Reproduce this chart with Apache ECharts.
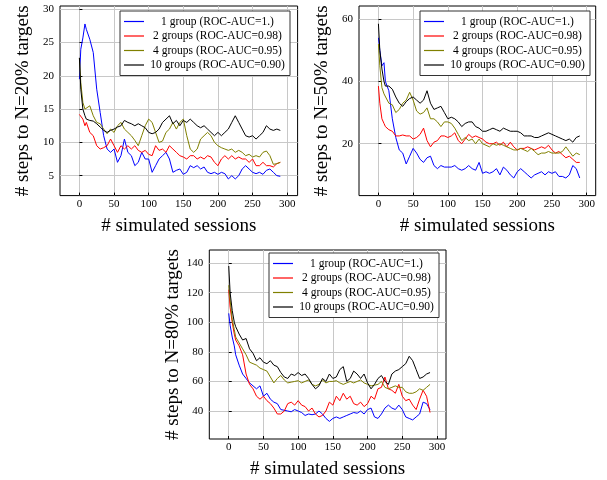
<!DOCTYPE html>
<html>
<head>
<meta charset="utf-8">
<script src="https://cdn.jsdelivr.net/npm/echarts@6/dist/echarts.min.js"></script>
<style>
  html, body { margin: 0; padding: 0; background: #fff; }
  #chart { width: 607px; height: 480px; }
</style>
</head>
<body>
<div id="chart"></div>
<script>
// simulated sessions at which the curves were read off
var sessions = [0, 2, 5, 8,
  10, 15, 20, 25, 30, 35, 40, 45, 50, 55,
  60, 65, 70, 75, 80, 85, 90, 95, 100, 105,
  110, 115, 120, 125, 130, 135, 140, 145, 150, 155,
  160, 165, 170, 175, 180, 185, 190, 195, 200, 205,
  210, 215, 220, 225, 230, 235, 240, 245, 250, 255,
  260, 265, 270, 275, 280, 285, 290];

var groupNames = ['1 group (ROC-AUC=1.)', '2 groups (ROC-AUC=0.98)', '4 groups (ROC-AUC=0.95)', '10 groups (ROC-AUC=0.90)'];
var groupColors = ['#0000ff', '#ff0000', '#808000', '#000000'];

var xTicks = [0, 50, 100, 150, 200, 250, 300];
var yTicks20 = [5, 10, 15, 20, 25, 30];
var yTicks50 = [20, 40, 60];
var yTicks80 = [40, 60, 80, 100, 120, 140];

// N = 20% targets
var blue20 = [19.5, 24, 25.7, 27.8,
  27, 25.5, 23.5, 18, 14.5, 11, 9, 8.5, 9, 7,
  8, 10.5, 8.5, 8, 6.5, 7, 8.5, 7.5, 7.5, 5.5,
  6.5, 7.5, 8, 8.5, 7.5, 5.5, 5.8, 6, 5.2, 5.5,
  6.5, 6.2, 6.5, 6, 6.3, 5.5, 5.3, 5.5, 5.2, 5.5,
  5.3, 4.5, 5, 4.5, 5, 6, 6.5, 6, 5.5, 5.3,
  5.5, 5.2, 5.8, 6, 5.5, 5, 4.9];
var red20 = [14.2, 14, 13.5, 12.5,
  13, 11.5, 11, 9.5, 9, 9.2, 9.5, 10.5, 9.5, 8.5,
  9.5, 9, 9.5, 9, 9.5, 8.8, 8.5, 8.8, 8.2, 8,
  9.5, 8.8, 9, 8.5, 9.5, 9, 8.5, 8, 7.8, 7.5,
  8, 8, 7.5, 7.8, 7.5, 8, 7.8, 7, 6.5, 7.5,
  8, 7.5, 8, 7.5, 7.8, 7.5, 7.5, 7, 7.5, 6.5,
  6.5, 7, 6.5, 6.5, 6.3, 6.8, 7];
var olive20 = [22.7, 19, 16, 15,
  15.3, 15.5, 14, 13, 12.8, 12, 11.3, 12, 11.5, 12.5,
  13, 12, 11.5, 11, 10.3, 9.5, 11, 12.5, 13.5, 13,
  11.5, 10, 10.2, 11.5, 12, 13, 12, 13, 13.5, 11,
  9, 8.5, 9, 10.5, 11, 11.5, 11, 10, 9.5, 9.2,
  9, 8.8, 9, 8.5, 8.8, 8.5, 8, 8.2, 7.8, 8,
  7.8, 8.5, 8.7, 8, 6.7, 6.8, 7];
var black20 = [22.7, 18, 15, 14,
  13.5, 13.3, 13.2, 12.8, 12.3, 11.8, 11.5, 11.8, 12, 12.3,
  12.5, 13.3, 13, 12.8, 12.5, 12.8, 12.5, 12.2, 11.5, 11.3,
  11.5, 12, 13, 13.5, 14, 12.8, 13.3, 12.5, 13.3, 13,
  13.5, 13, 12.5, 12.2, 12.5, 12, 11.5, 11, 11.5, 11,
  11.5, 12, 13, 14, 13, 12, 11, 10.8, 11, 10.5,
  11, 11.5, 12.5, 12, 11.8, 12, 11.8];

// N = 50% targets
var blue50 = [54, 50, 45, 46,
  40, 37, 28, 22, 18, 17, 13.5, 16, 18.5, 17,
  15, 14, 15.5, 16, 13, 12, 13, 12.5, 12.5, 12.5,
  13, 12, 11.5, 12, 13, 12, 11.5, 14, 10.5, 11,
  10.5, 11, 12, 10, 12.5, 11.5, 10, 9, 11, 12,
  11, 10, 9, 10, 10.5, 11, 10, 11, 10.5, 11,
  9.5, 9.5, 9, 10, 13, 12, 9];
var red50 = [38.5, 33, 28, 26.5,
  25.5, 24.5, 24, 22.5, 22.5, 22.8, 22.5, 22.5, 21.5, 22,
  23, 25, 21, 19, 20.5, 21, 22.5, 22.5, 22, 22.5,
  23.5, 21, 20, 21.5, 23, 22, 22.5, 22, 21.5, 20.5,
  20, 20, 20.5, 19.5, 20.5, 19, 20.5, 19, 18, 18.5,
  18.5, 19, 18.5, 18, 18.5, 19, 18.5, 19.5, 18, 17,
  17.5, 16.5, 15.5, 16, 15, 14, 14];
var olive50 = [52, 45, 38, 36,
  35.5, 33, 32.5, 30, 31, 33, 34, 36.5, 34, 30.5,
  29.5, 30, 31.5, 28, 28, 27, 25.5, 27, 27, 26.5,
  25, 23, 21, 22, 21, 21.5, 20, 21.5, 20, 19.5,
  19, 20, 19.5, 20, 19.5, 19, 18.5, 18, 18, 18.5,
  18, 17.5, 18.5, 17.5, 16.5, 17, 17, 17.5, 17, 17,
  17, 17.5, 19, 17.5, 16, 17, 16.5];
var black50 = [58.5, 50, 44, 40,
  38.5, 38.5, 37.5, 35, 33, 32, 33.5, 34.5, 35, 34,
  33, 34, 37, 33, 31, 31.5, 32, 30, 28, 28.5,
  28, 27, 25.5, 26.5, 27, 27, 25.5, 25, 24, 24,
  24.5, 25, 24.5, 24, 25, 24.5, 24, 24, 24, 23.5,
  22.5, 22.5, 22.5, 22, 22, 22.5, 23, 23.5, 23, 22.5,
  22, 21.5, 21, 21.5, 20.5, 22, 22.5];

// N = 80% targets
var blue80 = [106, 98, 90, 84,
  78, 71, 65, 62, 59, 57, 55, 57, 50, 52,
  48, 46, 45, 41, 40.5, 40, 39.5, 41, 40, 39,
  37, 38, 37.5, 38, 40, 38, 35, 33, 35, 36,
  35, 36, 37, 38, 39, 38.5, 40, 38, 41, 42,
  36, 35, 38, 42, 44, 42, 41, 44, 41, 36,
  35, 34, 36, 38, 46, 45, 41];
var red80 = [122, 110, 100, 92,
  88, 84, 78, 65, 58, 55, 50, 48, 50, 47,
  45, 42, 38, 38, 40, 45, 46, 44, 47, 44,
  43, 40, 42, 38, 36, 37, 40, 46, 44, 50,
  47, 52, 48, 50, 45, 44, 46, 43, 45, 50,
  48, 55, 56, 63, 55, 54, 52, 58, 50, 47,
  48, 44, 41, 48, 54, 50, 39];
var olive80 = [125, 115, 102, 95,
  90, 86, 82, 78, 73, 72, 71, 69, 68, 67,
  63, 59, 62, 64, 61, 59, 59.5, 60, 60.5, 59,
  60, 61, 58, 57, 58, 61, 59, 60, 60, 60.5,
  59, 58, 59, 60, 59, 60, 61, 59, 58, 57,
  57.5, 58, 60, 56, 55, 56, 57, 56, 56, 53,
  52, 52, 53, 55, 54, 56, 58];
var black80 = [138, 120, 108, 100,
  97, 92, 88, 89, 82, 79, 74, 76, 73, 72,
  74, 71, 70, 66, 63, 62, 65, 64, 66, 64,
  65, 62, 58, 55, 57, 62, 60, 65, 62, 63,
  68, 70, 60, 62, 67, 65, 62, 65, 59, 55,
  58, 62, 64, 60, 58, 65, 67, 68, 70, 72,
  77, 74, 68, 62, 63, 65, 66];

var serif = '"Liberation Serif", "DejaVu Serif", serif';

var panels = [
  { grid: { left: 60, top: 6, width: 237.6, height: 189.6 }, xMin: -28, xMax: 315, yMin: 2, yMax: 30.5,
    yTicks: yTicks20, yName: '# steps to N=20% targets', legend: { left: 120, top: 11 },
    curves: [blue20, red20, olive20, black20] },
  { grid: { left: 359, top: 6, width: 236.7, height: 189.6 }, xMin: -28, xMax: 313, yMin: 3.35, yMax: 64.2,
    yTicks: yTicks50, yName: '# steps to N=50% targets', legend: { left: 420, top: 11 },
    curves: [blue50, red50, olive50, black50] },
  { grid: { left: 209.3, top: 250, width: 236.7, height: 189 }, xMin: -28, xMax: 313, yMin: 21.1, yMax: 148.8,
    yTicks: yTicks80, yName: '# steps to N=80% targets', legend: { left: 269, top: 253 },
    curves: [blue80, red80, olive80, black80] }
];

function toPoints(values) {
  return sessions.map(function (s, i) { return [s, values[i]]; });
}

var option = { animation: false, backgroundColor: '#fff', grid: [], xAxis: [], yAxis: [], legend: [], series: [] };

panels.forEach(function (p, k) {
  option.grid.push(Object.assign({
    show: true, borderColor: '#000', borderWidth: 1, backgroundColor: 'transparent',
    outerBoundsMode: 'none', containLabel: false
  }, p.grid));

  option.xAxis.push({
    type: 'value', gridIndex: k, min: p.xMin, max: p.xMax,
    name: '# simulated sessions', nameLocation: 'middle', nameGap: 21,
    nameTextStyle: { fontFamily: serif, fontSize: 19, color: '#000' },
    axisLine: { show: false },
    axisTick: { show: true, inside: true, length: 3, customValues: xTicks, lineStyle: { color: '#000' } },
    axisLabel: { customValues: xTicks, fontFamily: serif, fontSize: 11, color: '#000', margin: 3 },
    splitLine: { show: true, lineStyle: { color: '#c8c8c8', width: 1 } }
  });

  option.yAxis.push({
    type: 'value', gridIndex: k, min: p.yMin, max: p.yMax,
    name: p.yName, nameLocation: 'middle', nameGap: 27,
    nameTextStyle: { fontFamily: serif, fontSize: 19, color: '#000' },
    axisLine: { show: false },
    axisTick: { show: true, inside: true, length: 3, customValues: p.yTicks, lineStyle: { color: '#000' } },
    axisLabel: { customValues: p.yTicks, fontFamily: serif, fontSize: 11, color: '#000', margin: 6 },
    splitLine: { show: true, lineStyle: { color: '#c8c8c8', width: 1 } }
  });

  option.legend.push({
    left: p.legend.left, top: p.legend.top, orient: 'vertical',
    data: groupNames, selectedMode: false,
    icon: 'rect', itemWidth: 20, itemHeight: 1.2, itemGap: 1.5,
    padding: [4, 4, 4, 4], borderColor: '#333', borderWidth: 1, backgroundColor: '#fff',
    formatter: function (name) { return '{c|' + name + '}'; },
    textStyle: {
      fontFamily: serif, fontSize: 11.5, color: '#000', lineHeight: 13,
      rich: { c: { width: 137, align: 'center', fontFamily: serif, fontSize: 11.5, lineHeight: 13, color: '#000' } }
    }
  });

  p.curves.forEach(function (values, j) {
    option.series.push({
      name: groupNames[j], type: 'line', xAxisIndex: k, yAxisIndex: k,
      data: toPoints(values), showSymbol: false, symbol: 'none',
      itemStyle: { color: groupColors[j] },
      lineStyle: { color: groupColors[j], width: 1 }
    });
  });
});

var myChart = echarts.init(document.getElementById('chart'), null, { renderer: 'canvas' });
myChart.setOption(option);
</script>
</body>
</html>
